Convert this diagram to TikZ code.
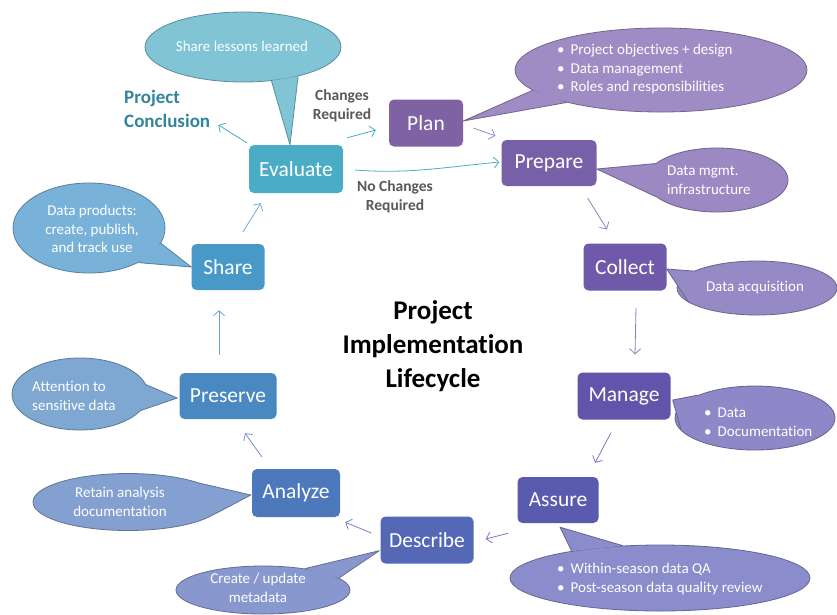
\documentclass[tikz,border=0pt]{standalone}
\usepackage{fontspec}
\setmainfont[Ligatures={NoCommon}]{Carlito}
\usetikzlibrary{shapes.geometric,arrows.meta,calc}
\definecolor{cEval}{HTML}{4BACC6}
\definecolor{cPlan}{HTML}{7E62A4}
\definecolor{cPrep}{HTML}{7860A8}
\definecolor{cColl}{HTML}{6E5AA8}
\definecolor{cMan}{HTML}{6254AA}
\definecolor{cAss}{HTML}{5A5AAE}
\definecolor{cDesc}{HTML}{5468B6}
\definecolor{cAna}{HTML}{4E78BC}
\definecolor{cPres}{HTML}{4A88C2}
\definecolor{cShare}{HTML}{4898C8}
\definecolor{bEval}{HTML}{80C4D6}
\definecolor{bPlan}{HTML}{A08CC4}
\definecolor{bPrep}{HTML}{9C88C2}
\definecolor{bColl}{HTML}{968AC6}
\definecolor{bMan}{HTML}{8E88C8}
\definecolor{bAss}{HTML}{8A8CCC}
\definecolor{bDesc}{HTML}{8898CE}
\definecolor{bAna}{HTML}{84A0D0}
\definecolor{bPres}{HTML}{7EA8D2}
\definecolor{bShare}{HTML}{78B2D8}
\definecolor{cConcl}{HTML}{31859C}
\definecolor{cGray}{HTML}{595959}
\tikzset{
  stage/.style={rectangle, rounded corners=5pt, text=white, inner sep=0pt,
    font=\fontsize{21.5}{24}\selectfont, minimum height=47pt},
  bubble/.style={ellipse, inner sep=0pt, line width=0.8pt},
  btext/.style={text=white, font=\fontsize{15}{18.5}\selectfont, inner sep=0pt},
  arr/.style={-{Straight Barb[length=5pt,width=11pt]}, line width=0.8pt},
  lbl/.style={text=cGray, font=\bfseries\fontsize{15.5}{19}\selectfont, align=center, inner sep=0pt}
}
% #1 name, #2 center, #3 width, #4 height, #5 colour, #6 tip, #7 angle1, #8 angle2
\newcommand{\callout}[8]{%
  \node[bubble, fill=#5, draw=#5!72!black, minimum width=#3pt, minimum height=#4pt] (#1) at #2 {};
  \fill[#5] (#1.#7) -- #6 -- (#1.#8) -- cycle;
  \draw[#5!72!black, line width=0.8pt, line join=round] (#1.#7) -- #6 -- (#1.#8);
}
\begin{document}
\begin{tikzpicture}[x=1pt,y=-1pt]
\fill[white] (0,0) rectangle (837,614);
\useasboundingbox (0,0) rectangle (837,614);

% stages
\node[stage, fill=cEval,  minimum width=94pt, minimum height=48pt] (eval)  at (296,169) {Evaluate};
\node[stage, fill=cPlan,  minimum width=74pt] (plan)  at (426,123) {Plan};
\node[stage, fill=cPrep,  minimum width=95pt, minimum height=46pt] (prep)  at (549,163) {Prepare};
\node[stage, fill=cColl,  minimum width=83pt] (coll)  at (625,267) {Collect};
\node[stage, fill=cMan,   minimum width=93pt] (man)   at (624,396) {Manage};
\node[stage, fill=cAss,   minimum width=81pt, minimum height=46pt] (ass)   at (558,500) {Assure};
\node[stage, fill=cDesc,  minimum width=93pt] (desc)  at (427,540) {Describe};
\node[stage, fill=cAna,   minimum width=88pt, minimum height=48pt] (ana)   at (296,493) {Analyze};
\node[stage, fill=cPres,  minimum width=97pt, minimum height=46pt] (pres)  at (228,396) {Preserve};
\node[stage, fill=cShare, minimum width=73pt, minimum height=46pt] (share) at (228,267) {Share};

% callouts
\callout{bLess}{(243,47)}{196}{70}{bEval}{($(eval.north)+(-6,0)$)}{-50}{-28}
\callout{bPl}{(661,70)}{292}{84}{bPlan}{($(plan.east)+(0,-2)$)}{189}{199}
\callout{bPr}{(717,180)}{142}{64}{bPrep}{($(prep.east)+(0,6)$)}{165}{195}
\callout{bCo}{(757,288)}{160}{54}{bColl}{($(coll.east)+(0,2)$)}{165}{192}
\callout{bMa}{(755,418)}{160}{64}{bMan}{($(man.east)+(2,4)$)}{158}{190}
\callout{bAs}{(660,578)}{300}{66}{bAss}{($(ass.south)+(2,4)$)}{163}{139}
\callout{bDe}{(263,590)}{174}{48}{bDesc}{($(desc.south west)+(-1,-13)$)}{27}{9}
\callout{bAn}{(128,502)}{190}{57}{bAna}{($(ana.west)+(-1,2)$)}{14}{-8}
\callout{bPs}{(80,394)}{136}{72}{bPres}{($(pres.west)+(-2,2)$)}{8}{-15}
\callout{bSh}{(89,228)}{152}{90}{bShare}{($(share.west)+(0,0)$)}{-12}{-35}

% callout texts
\node[btext] (tLess) at (242,46) {Share lessons learned};
\node[btext, anchor=west, align=left] (tPl) at (557,69)
  {•\hspace{6pt}Project objectives + design\\•\hspace{6pt}Data management\\•\hspace{6pt}Roles and responsibilities};
\node[btext, anchor=west, align=left] (tPr) at (667,180) {Data mgmt.\\infrastructure};
\node[btext] (tCo) at (755,288) {Data acquisition};
\node[btext, anchor=west, align=left] (tMa) at (704,422) {•\hspace{6pt}Data\\•\hspace{6pt}Documentation};
\node[btext, anchor=west, align=left] (tAs) at (557,579)
  {•\hspace{6pt}Within-season data QA\\•\hspace{6pt}Post-season data quality review};
\node[btext, align=center] (tDe) at (258,588) {Create / update\\metadata};
\node[btext, align=center] (tAn) at (120,502) {Retain analysis\\documentation};
\node[btext, anchor=west, align=left] (tPs) at (32,396) {Attention to\\sensitive data};
\node[btext, align=center] (tSh) at (92,229) {Data products:\\create, publish,\\and track use};

% labels
\node[text=cConcl, font=\bfseries\fontsize{19}{24}\selectfont, align=left, anchor=west, inner sep=0pt]
  (concl) at (124,109) {Project\\Conclusion};
\node[lbl] (chg) at (342,106) {Changes\\Required};
\node[lbl] (nochg) at (395,197) {No Changes\\Required};
\node[font=\bfseries\fontsize{27}{34}\selectfont, align=center, inner sep=0pt] (title) at (433,346)
  {Project\\Implementation\\Lifecycle};

% connectors
\draw[arr, cEval] ($(eval.north west)+(-2,-2)$) -- ($(concl.south east)+(8,-3)$);
\draw[arr, cEval] ($(eval.north east)+(4,-7)$) -- ($(plan.west)+(-13,7)$);
\draw[arr, cEval] ($(eval.east)+(12,1)$) .. controls +(50,4) and +(-60,6) .. ($(prep.west)+(-2,-1)$);
\draw[arr, bPlan] ($(plan.east)+(10,5)$) -- ($(prep.north west)+(-6,-4)$);
\draw[arr, cPrep!80!white] ($(prep.south east)+(-9,12)$) -- ($(coll.north)+(-18,-14)$);
\draw[arr, cColl!80!white] ($(coll.south)+(11,17)$) -- ($(man.north)+(11,-18)$);
\draw[arr, cMan!80!white] ($(man.south)+(-13,13)$) -- ($(ass.north)+(37,-14)$);
\draw[arr, cAss!80!white] ($(ass.south west)+(-9,10)$) -- ($(desc.east)+(12,-1)$);
\draw[arr, cDesc!80!white] ($(desc.west)+(-9,-7)$) -- ($(ana.south east)+(5,5)$);
\draw[arr, cAna!80!white] ($(ana.north west)+(10,-12)$) -- ($(pres.south)+(17,14)$);
\draw[arr, cPres!80!white] ($(pres.north)+(-9,-18)$) -- ($(share.south)+(-9,20)$);
\draw[arr, cShare!80!white] ($(share.north)+(15,-12)$) -- ($(eval.south west)+(12,10)$);
\end{tikzpicture}
\end{document}
